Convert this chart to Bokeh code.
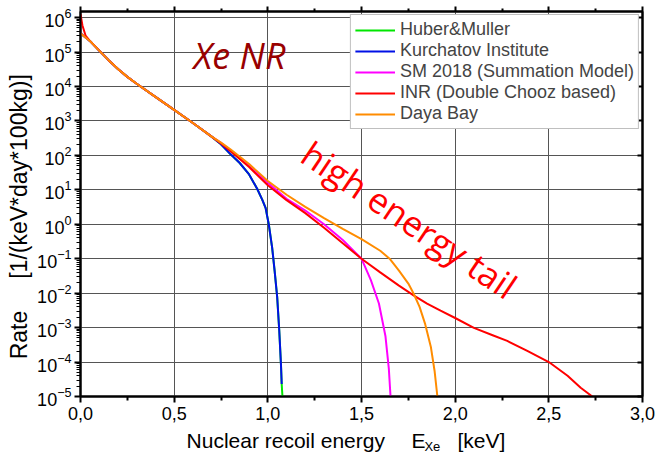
from math import pi

from bokeh.embed import file_html
from bokeh.layouts import column
from bokeh.models import CustomJSTickFormatter, FixedTicker, Label, LinearAxis, LogAxis, Range1d
from bokeh.plotting import figure
from bokeh.resources import INLINE

# ---- data: Xe nuclear-recoil rate spectra, E in keV, rate in 1/(keV*day*100kg)
x_ticks = [0.0, 0.5, 1.0, 1.5, 2.0, 2.5, 3.0]
x_tick_labels = ["0,0", "0,5", "1,0", "1,5", "2,0", "2,5", "3,0"]
x_minor = [0.25, 0.75, 1.25, 1.75, 2.25, 2.75]

huber_e = [0.0, 0.05, 0.1, 0.15, 0.2, 0.25, 0.3, 0.4, 0.5, 0.6, 0.7,
           0.75, 0.8, 0.85, 0.9, 0.943, 0.97, 0.988, 1.005, 1.023, 1.036,
           1.05, 1.061, 1.07, 1.074, 1.078]
huber_r = [3.5e5, 2.1e5, 1.1e5, 5.8e4, 3.2e4, 1.9e4, 1.2e4, 5.0e3, 2.1e3, 8.7e2, 3.5e2,
           2.1e2, 1.1e2, 60, 28, 10.7, 5.2, 3.0, 1.0, 0.21, 0.046,
           7.6e-3, 8.1e-4, 8.7e-5, 2.3e-5, 1.0e-5]

kurchatov_e = [0.0, 0.05, 0.1, 0.15, 0.2, 0.25, 0.3, 0.4, 0.5, 0.6, 0.7,
               0.75, 0.8, 0.85, 0.9, 0.943, 0.97, 0.988, 1.005, 1.023, 1.036,
               1.05, 1.061, 1.07, 1.074]
kurchatov_r = [3.5e5, 2.1e5, 1.1e5, 5.8e4, 3.2e4, 1.9e4, 1.2e4, 5.0e3, 2.1e3, 8.7e2, 3.5e2,
               2.1e2, 1.1e2, 60, 28, 10.7, 5.2, 3.0, 1.0, 0.21, 0.046,
               7.6e-3, 8.1e-4, 8.7e-5, 2.3e-5]

sm2018_e = [0.0, 0.05, 0.1, 0.15, 0.2, 0.25, 0.3, 0.4, 0.5, 0.6, 0.7,
            0.75, 0.8, 0.9, 1.0, 1.1, 1.2, 1.3, 1.4, 1.5, 1.55, 1.593,
            1.628, 1.646, 1.655]
sm2018_r = [3.5e5, 2.1e5, 1.1e5, 5.8e4, 3.2e4, 1.9e4, 1.2e4, 5.0e3, 2.1e3, 8.7e2, 3.5e2,
            2.3e2, 1.4e2, 50, 16, 5.5, 2.5, 1.0, 0.35, 0.1, 0.024, 5.0e-3,
            5.6e-4, 6.3e-5, 1.0e-5]

inr_e = [0.0, 0.01, 0.027, 0.05, 0.1, 0.15, 0.2, 0.25, 0.3, 0.4, 0.5, 0.6, 0.7,
         0.75, 0.8, 0.9, 1.0, 1.1, 1.2, 1.3, 1.4, 1.5, 1.6, 1.7, 1.78, 1.85,
         1.922, 2.0, 2.1, 2.2, 2.278, 2.385, 2.5, 2.6, 2.67, 2.732]
inr_r = [1.26e6, 6.0e5, 3.0e5, 2.1e5, 1.1e5, 5.8e4, 3.2e4, 1.9e4, 1.2e4, 5.0e3, 2.1e3, 8.7e2, 3.5e2,
         2.2e2, 1.35e2, 46, 13.5, 5.0, 2.1, 0.79, 0.28, 0.1, 0.04, 0.0166, 8.5e-3, 5.0e-3,
         3.1e-3, 1.9e-3, 9.8e-4, 6.0e-4, 4.1e-4, 2.1e-4, 1.0e-4, 4.0e-5, 1.8e-5, 1.0e-5]

dayabay_e = [0.0, 0.05, 0.1, 0.15, 0.2, 0.25, 0.3, 0.4, 0.5, 0.6, 0.7,
             0.75, 0.8, 0.9, 1.0, 1.1, 1.2, 1.3, 1.4, 1.5, 1.6, 1.65, 1.7, 1.75,
             1.78, 1.81, 1.84, 1.87, 1.89, 1.905]
dayabay_r = [3.5e5, 2.1e5, 1.1e5, 5.8e4, 3.2e4, 1.9e4, 1.2e4, 5.0e3, 2.1e3, 8.7e2, 3.5e2,
             2.35e2, 1.5e2, 56, 18, 7.2, 3.2, 1.5, 0.74, 0.37, 0.17, 0.1, 0.045, 0.019,
             9.3e-3, 4.0e-3, 1.26e-3, 2.8e-4, 5.6e-5, 1.0e-5]

series = [
    ("Huber&Muller", huber_e, huber_r, "#00e600"),
    ("Kurchatov Institute", kurchatov_e, kurchatov_r, "#0010e6"),
    ("SM 2018 (Summation Model)", sm2018_e, sm2018_r, "#ff00ff"),
    ("INR (Double Chooz based)", inr_e, inr_r, "#ff0000"),
    ("Daya Bay", dayabay_e, dayabay_r, "#ff8c00"),
]

y_decades = [10.0 ** k for k in range(-5, 7)]
y_minor = [m * 10.0 ** k for k in range(-5, 6) for m in range(2, 10)]

AXIS_FONT = "Liberation Sans"
NBSP = "\u00a0"

p = figure(width=664, height=428, x_range=(0, 3), y_range=(1e-5, 1.5e6),
           y_axis_type="log", output_backend="svg", toolbar_location=None,
           min_border_left=80, min_border_right=22, min_border_top=11,
           min_border_bottom=32, background_fill_color="white")

p.outline_line_color = "black"
p.outline_line_width = 2

# bottom axis
xa = p.xaxis[0]
xa.ticker = FixedTicker(ticks=x_ticks, minor_ticks=x_minor)
xa.major_label_overrides = dict(zip(x_ticks, x_tick_labels))
xa.major_label_text_font = AXIS_FONT
xa.major_label_text_font_size = "18px"
xa.major_label_text_color = "black"
xa.major_label_standoff = 4
xa.axis_line_width = 2
xa.axis_line_color = "black"
xa.major_tick_out = 6
xa.major_tick_in = 0
xa.minor_tick_out = 4
xa.minor_tick_in = 0
xa.major_tick_line_width = 2
xa.minor_tick_line_width = 2

# left axis, title spelled with non-breaking spaces so the gap survives
ya = p.yaxis[0]
ya.ticker = FixedTicker(ticks=y_decades, minor_ticks=y_minor)
ya.major_label_text_font = AXIS_FONT
ya.major_label_text_font_size = "18px"
ya.major_label_text_color = "black"
ya.major_label_standoff = 3
ya.axis_line_width = 2
ya.axis_line_color = "black"
ya.major_tick_out = 6
ya.major_tick_in = 0
ya.minor_tick_out = 4
ya.minor_tick_in = 0
ya.major_tick_line_width = 2
ya.minor_tick_line_width = 1
ya.axis_label = "Rate" + NBSP * 5 + "[1/(keV*day*100kg)]" + NBSP * 4
ya.axis_label_text_font = AXIS_FONT
ya.axis_label_text_font_style = "normal"
ya.axis_label_text_font_size = "23px"
ya.axis_label_text_color = "black"
ya.axis_label_standoff = 2

# top and right frame axes, ticks only
blank = CustomJSTickFormatter(code="return ''")
top = LinearAxis(ticker=FixedTicker(ticks=x_ticks, minor_ticks=x_minor), formatter=blank,
                 major_label_text_font_size="2px", major_label_standoff=0,
                 major_tick_out=5, major_tick_in=0, minor_tick_out=3, minor_tick_in=0,
                 axis_line_width=2, major_tick_line_width=2, minor_tick_line_width=2)
p.add_layout(top, "above")
right = LogAxis(ticker=FixedTicker(ticks=y_decades, minor_ticks=[]), formatter=blank,
                major_label_text_font_size="2px", major_label_standoff=0,
                major_tick_out=0, major_tick_in=5, minor_tick_out=0, minor_tick_in=0,
                axis_line_width=2, major_tick_line_width=2)
p.add_layout(right, "right")

p.xgrid.grid_line_color = "#555555"
p.ygrid.grid_line_color = "#555555"
p.xgrid.grid_line_width = 1
p.ygrid.grid_line_width = 1

for name, e, r, c in series:
    p.line(e, r, line_color=c, line_width=2, legend_label=name)

lg = p.legend[0]
lg.location = "top_right"
lg.margin = 3
lg.padding = 4
lg.spacing = 0
lg.label_height = 18
lg.glyph_height = 18
lg.glyph_width = 40
lg.label_standoff = 5
lg.label_text_font = AXIS_FONT
lg.label_text_font_size = "18px"
lg.border_line_color = "#808080"
lg.border_line_width = 1.5
lg.background_fill_alpha = 1.0

# in-plot annotations
p.add_layout(Label(x=0.603, y=10 ** 4.9, text="Xe NR", text_font="Open Sans",
                   text_font_style="italic", text_font_size="36px", text_color="#990000",
                   text_align="left", text_baseline="alphabetic"))
p.add_layout(Label(x=1.756, y=1.37, text="high energy tail", text_font="Open Sans",
                   text_font_size="35px", text_color="#ff0000", angle=-0.593,
                   text_align="center", text_baseline="middle"))

# strip under the plot carrying the x-axis title with its subscript
q = figure(width=664, height=27, x_range=p.x_range, y_range=Range1d(0, 1),
           x_axis_location=None, y_axis_location=None, output_backend="svg",
           toolbar_location=None, min_border_left=80, min_border_right=22,
           min_border_top=0, min_border_bottom=0)
q.outline_line_color = None
q.grid.visible = False

lab = dict(text_font=AXIS_FONT, text_font_size="21px", text_color="black",
           text_align="left", text_baseline="top")
q.add_layout(Label(x=0.566, y=1.0, text="Nuclear recoil energy", **lab))
q.add_layout(Label(x=1.767, y=1.0, text="E", **lab))
q.add_layout(Label(x=1.836, y=0.6, text="Xe", text_font=AXIS_FONT, text_font_size="13px",
                   text_color="black", text_align="left", text_baseline="top"))
q.add_layout(Label(x=2.012, y=1.0, text="[keV]", **lab))

open("out.html", "w").write(file_html(column(p, q, spacing=0), INLINE))
